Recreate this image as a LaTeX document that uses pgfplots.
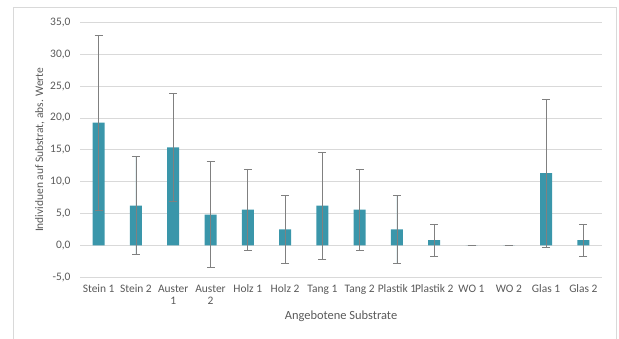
\documentclass[border=0pt]{standalone}
\usepackage{fontspec}
\setmainfont{Carlito}
\usepackage{pgfplots}
\pgfplotsset{compat=1.18}
\usepackage{pgfplotstable}
\definecolor{barc}{RGB}{58,150,170}
\definecolor{txt}{RGB}{89,89,89}
\definecolor{gridc}{RGB}{217,217,217}
\definecolor{errc}{RGB}{128,128,128}
\pgfplotstableread{
x y e
0 19.25 13.75
1 6.25 7.65
2 15.4 8.5
3 4.85 8.35
4 5.6 6.4
5 2.5 5.3
6 6.25 8.4
7 5.6 6.4
8 2.5 5.3
9 0.85 2.5
10 0 0
11 0 0
12 11.35 11.6
13 0.85 2.5
}\data
\begin{document}
\begin{tikzpicture}[x=1bp,y=1bp]
\path[use as bounding box] (0,0) rectangle (619,338);
\draw[gridc, line width=0.75bp] (13.3,-10) rectangle (616.7,330.7);
\begin{axis}[
  at={(80bp,60.7bp)}, anchor=south west,
  scale only axis, width=522bp, height=255bp,
  xmin=-0.5, xmax=13.5, ymin=-5, ymax=35,
  ytick={-5,0,...,35}, xtick={0,...,13},
  xticklabels={Stein 1, Stein 2, {Auster\\1}, {Auster\\2}, Holz 1, Holz 2, Tang 1, Tang 2, Plastik 1, Plastik 2, WO 1, WO 2, Glas 1, Glas 2},
  xticklabel style={align=center, font=\fontsize{11.5}{12}\selectfont, text=txt, yshift=-4bp},
  yticklabel style={font=\fontsize{11.5}{12}\selectfont, text=txt, xshift=-6bp,
    /pgf/number format/.cd, fixed, fixed zerofill, precision=1, use comma, assume math mode=true},
  ymajorgrids, grid style={gridc, line width=0.75bp},
  axis line style={draw=none}, major tick length=0,
  ylabel={Individuen auf Substrat, abs. Werte},
  ylabel style={at={([xshift=-40bp]axis description cs:0,0.5)}, anchor=center, font=\fontsize{11.5}{12}\selectfont, text=txt},
  xlabel={Angebotene Substrate},
  xlabel style={at={([yshift=-38.7bp]axis description cs:0.5,0)}, anchor=center, font=\fontsize{12.5}{13}\selectfont, text=txt},
  ybar, bar width=12bp,
]
\addplot[ybar, fill=barc, draw=none,
  error bars/.cd, y dir=both, y explicit, error mark=|,
  error bar style={draw=errc, line width=0.8bp},
  error mark options={draw=errc, mark size=4bp, line width=0.8bp}]
  table[x=x, y=y, y error=e]{\data};
\end{axis}
\end{tikzpicture}
\end{document}
